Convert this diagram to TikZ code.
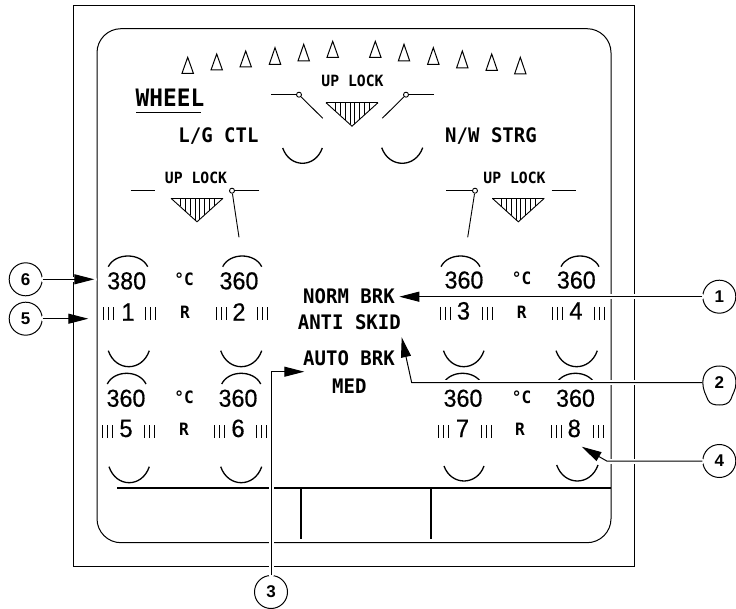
\documentclass[tikz,border=0pt]{standalone}
\usepackage{fontspec}
\setmainfont{Liberation Sans}
\newfontfamily\lblfont[FakeStretch=0.95]{DejaVu Sans Mono}
\newfontfamily\numfont[FakeBold=0.5,FakeStretch=0.95]{Liberation Sans}
\usetikzlibrary{arrows.meta}
\tikzset{
  frameline/.style={line width=1pt,black},
  heavyline/.style={line width=2pt,black},
  thinline/.style={line width=0.9pt,black},
  bowline/.style={line width=1.3pt,black},
  lbl/.style={inner sep=0pt,anchor=base,font=\lblfont\bfseries\fontsize{20}{21}\selectfont},
  smalllbl/.style={inner sep=0pt,anchor=base,font=\lblfont\bfseries\fontsize{15.5}{16}\selectfont},
  unitlbl/.style={inner sep=0pt,anchor=base,font=\lblfont\bfseries\fontsize{17}{18}\selectfont},
  temp/.style={inner sep=0pt,anchor=base,font=\numfont\fontsize{24.5}{25}\selectfont},
  wnum/.style={inner sep=0pt,anchor=base,font=\numfont\fontsize{25}{26}\selectfont},
  callout/.style={circle,draw,line width=1pt,fill=white,minimum size=33pt,inner sep=0pt,font=\bfseries\fontsize{17}{18}\selectfont},
  leaderhalo/.style={white,line width=5pt,line cap=round,line join=round},
  leader/.style={line width=1pt,black,-{Triangle[length=20pt,width=10pt]}},
  pivot/.style={circle,draw,line width=0.9pt,fill=white,minimum size=5pt,inner sep=0pt},
}
% bowed arc between two points at height y, reaching ybow at the middle
\newcommand{\bowarc}[4]{%
  \pgfmathsetmacro{\cy}{#3+1.333*(#4-#3)}%
  \pgfmathsetmacro{\ca}{#1+0.18*(#2-#1)}%
  \pgfmathsetmacro{\cb}{#2-0.18*(#2-#1)}%
  \draw[bowline] (#1,#3) .. controls (\ca,\cy) and (\cb,\cy) .. (#2,#3);}
% three short bars
\newcommand{\barsat}[2]{%
  \foreach \k in {0,5,10}{\draw[thinline] (#1+\k,#2) -- (#1+\k,#2+13);}}
% hatched landing-gear triangle
\newcommand{\hatchtri}[4]{%
  \draw[line width=1.3pt] (#1-#3,#2) -- (#1+#3,#2);
  \draw[thinline] (#1-#3,#2) -- (#1,#2+#4) -- (#1+#3,#2);
  \foreach \d in {2,7,12,17}{%
    \pgfmathsetmacro{\ln}{#4*(1-\d/#3)}%
    \draw[thinline] (#1-\d,#2) -- (#1-\d,#2+\ln);
    \draw[thinline] (#1+\d,#2) -- (#1+\d,#2+\ln);}}
\newcommand{\gtri}[3]{%
  \draw[frameline,line join=miter] (#1-5.7,#3) -- (#1,#2) -- (#1+5.7,#3) -- cycle;}
\begin{document}
\begin{tikzpicture}[x=1pt,y=-1pt]
\useasboundingbox (0,0) rectangle (736,609);
\clip (0,0) rectangle (736,609);
% frames
\draw[frameline] (73.3,5.3) rectangle (634.3,566.7);
\draw[frameline,rounded corners=24pt] (97,28.7) rectangle (611,542.7);
\draw[heavyline] (117,488) -- (611,488);
\draw[heavyline] (301,488) -- (301,539);
\draw[heavyline] (431,488) -- (431,539);
% gear position triangles
\gtri{187.7}{57.3}{73.3}\gtri{216.7}{54}{70}\gtri{245.7}{51}{67}\gtri{275}{47.7}{64.3}\gtri{303.7}{44.3}{61}\gtri{332.7}{41.3}{57.3}
\gtri{375.3}{41.3}{57.3}\gtri{404}{44.3}{61}\gtri{433.3}{47.7}{64.3}\gtri{462.3}{51}{68}\gtri{491.7}{54}{70.5}\gtri{520.3}{57.3}{74}
% titles
\node[lbl,font=\lblfont\bfseries\fontsize{24}{25}\selectfont] (wheel) at (170,107) {WHEEL};
\draw[line width=1.2pt] (136,112.7) -- (201,112.7);
\node[lbl] (lgctl) at (218.5,143) {L/G CTL};
\node[lbl] (nwstrg) at (491,143) {N/W STRG};
\node[smalllbl] (ulc) at (352.5,87) {UP LOCK};
\node[smalllbl] (ull) at (196,184) {UP LOCK};
\node[smalllbl] (ulr) at (514.5,184) {UP LOCK};
% gear mechanics
\node[pivot] (pc1) at (299,94.7) {};
\coordinate (ec1a) at (271,94.7); \coordinate (ec1b) at (322.7,118.3);
\draw[thinline] (ec1a) -- (pc1); \draw[thinline] (pc1) -- (ec1b);
\node[pivot] (pc2) at (406,94.7) {};
\coordinate (ec2a) at (434,94.7); \coordinate (ec2b) at (382.3,118.3);
\draw[thinline] (ec2a) -- (pc2); \draw[thinline] (pc2) -- (ec2b);
\node[pivot] (pl) at (232,190.7) {};
\coordinate (ela) at (259.3,190.7); \coordinate (elb) at (239,237.3);
\draw[thinline] (ela) -- (pl); \draw[thinline] (pl) -- (elb);
\draw[thinline] (130.7,190.7) -- (155,190.7);
\node[pivot] (pr) at (475,190.7) {};
\coordinate (era) at (446,190.7); \coordinate (erb) at (467.7,237.3);
\draw[thinline] (era) -- (pr); \draw[thinline] (pr) -- (erb);
\draw[thinline] (551.7,190.7) -- (575.7,190.7);
\hatchtri{352}{102.7}{26}{23.5}
\hatchtri{197}{198.3}{26}{23.5}
\hatchtri{518.3}{198.3}{26}{23.5}
\bowarc{282.7}{322.3}{148}{163.3}
\bowarc{381.7}{422.7}{147.7}{163.3}
% upper row of wheels
\bowarc{108.3}{147.7}{266.7}{256}
\bowarc{222.7}{261.7}{266.7}{256}
\bowarc{441}{480}{266.7}{256}
\bowarc{561}{599}{266.7}{256}
\node[temp] (t1) at (126.7,289.3) {380};
\node[temp] (t2) at (239,289.3) {360};
\node[temp] (t3) at (464,288.5) {360};
\node[temp] (t4) at (576.3,288.5) {360};
\node[unitlbl] (ca) at (184,286) {°C};
\node[unitlbl] (cb) at (521.7,285) {°C};
\node[unitlbl] (ra) at (185,318.7) {R};
\node[unitlbl] (rb) at (521.7,318.7) {R};
\node[wnum] (w1) at (128,320.7) {1};
\node[wnum] (w2) at (239,320.7) {2};
\node[wnum] (w3) at (463.5,319.5) {3};
\node[wnum] (w4) at (576,319.5) {4};
\barsat{103}{307.5}\barsat{145}{307.5}\barsat{216}{307.5}\barsat{257.5}{307.5}
\barsat{440}{307}\barsat{482}{307}\barsat{552}{307}\barsat{594.5}{307}
\bowarc{108.3}{149.3}{350.7}{366.7}
\bowarc{220.7}{261.7}{350.7}{366.7}
\bowarc{443.5}{484}{350.7}{366.7}
\bowarc{556}{597.3}{350.7}{366.7}
% lower row of wheels
\bowarc{107.3}{146}{384}{373.3}
\bowarc{221.7}{260.7}{384}{373.3}
\bowarc{443}{482}{384}{373.3}
\bowarc{556}{595}{384}{373.3}
\node[temp] (t5) at (126,406.7) {360};
\node[temp] (t6) at (238,406.7) {360};
\node[temp] (t7) at (463,406.7) {360};
\node[temp] (t8) at (575.5,406.7) {360};
\node[unitlbl] (cc) at (184,403) {°C};
\node[unitlbl] (cd) at (521.7,403) {°C};
\node[unitlbl] (rc) at (184,435) {R};
\node[unitlbl] (rd) at (520,435) {R};
\node[wnum] (w5) at (126,437) {5};
\node[wnum] (w6) at (238,437) {6};
\node[wnum] (w7) at (462.5,437) {7};
\node[wnum] (w8) at (574.3,437) {8};
\barsat{102}{425}\barsat{144.5}{425}\barsat{214.5}{425}\barsat{256.5}{425}
\barsat{438.5}{425}\barsat{481}{425}\barsat{551}{425}\barsat{593}{425}
\bowarc{109}{149.3}{466.7}{482.7}
\bowarc{220.7}{261.7}{466.7}{482.7}
\bowarc{444}{484}{466}{481}
\bowarc{556.7}{598}{465}{481}
% centre messages
\node[lbl] (nb) at (349,303.3) {NORM BRK};
\node[lbl] (as) at (349.3,330) {ANTI SKID};
\node[lbl] (ab) at (349,366) {AUTO BRK};
\node[lbl] (md) at (349.3,393) {MED};
% callouts
\node[callout] (c1) at (719.3,296.7) {1};
\node[callout,draw=none,fill=none] (c2) at (719.3,382.7) {};
\node[callout] (c3) at (271,592) {3};
\node[callout] (c4) at (719.3,461) {4};
\node[callout] (c5) at (25.7,318.7) {5};
\node[callout] (c6) at (25.7,279.3) {6};
\coordinate (tip1) at (399.3,296.7);
\coordinate (bend2) at (411.7,382.7); \coordinate (tip2) at (401.7,337.3);
\coordinate (tip3) at (304.3,371.7);
\coordinate (bend4) at (606.7,461); \coordinate (tip4) at (581.7,446.7);
\coordinate (tip5) at (88.3,318.7);
\coordinate (tip6) at (94.3,279.3);
% halos
\draw[leaderhalo] (c1.west) -- (tip1);
\draw[leaderhalo] (c2.west) -- (bend2);
\draw[leaderhalo] (c3.north) |- (tip3);
\draw[leaderhalo] (c4.west) -- (bend4);
\draw[leaderhalo] (c5.east) -- (tip5);
\draw[leaderhalo] (c6.east) -- (tip6);
% leaders
\draw[leader] (c1.west) -- (tip1);
\draw[leader] (c2.west) -- (bend2) -- (tip2);
\draw[leader] (c3.north) |- (tip3);
\draw[leader] (c4.west) -- (bend4) -- (tip4);
\draw[leader] (c5.east) -- (tip5);
\draw[leader] (c6.east) -- (tip6);
% pear-shaped callout outline and its digit
\draw[line width=1pt,fill=white] (702.8,382.7) .. controls (702.8,372) and (710,366) .. (719.3,366)
  .. controls (729,366) and (736,372) .. (736,382.7)
  .. controls (736,390) and (732,395) .. (731,399)
  .. controls (729,404) and (724,405) .. (719.3,405)
  .. controls (714,405) and (710,404) .. (708,400)
  .. controls (706,395) and (702.8,390) .. cycle;
\node[font=\bfseries\fontsize{17}{18}\selectfont,inner sep=0pt] (c2t) at (719.3,383) {2};
\end{tikzpicture}
\end{document}
